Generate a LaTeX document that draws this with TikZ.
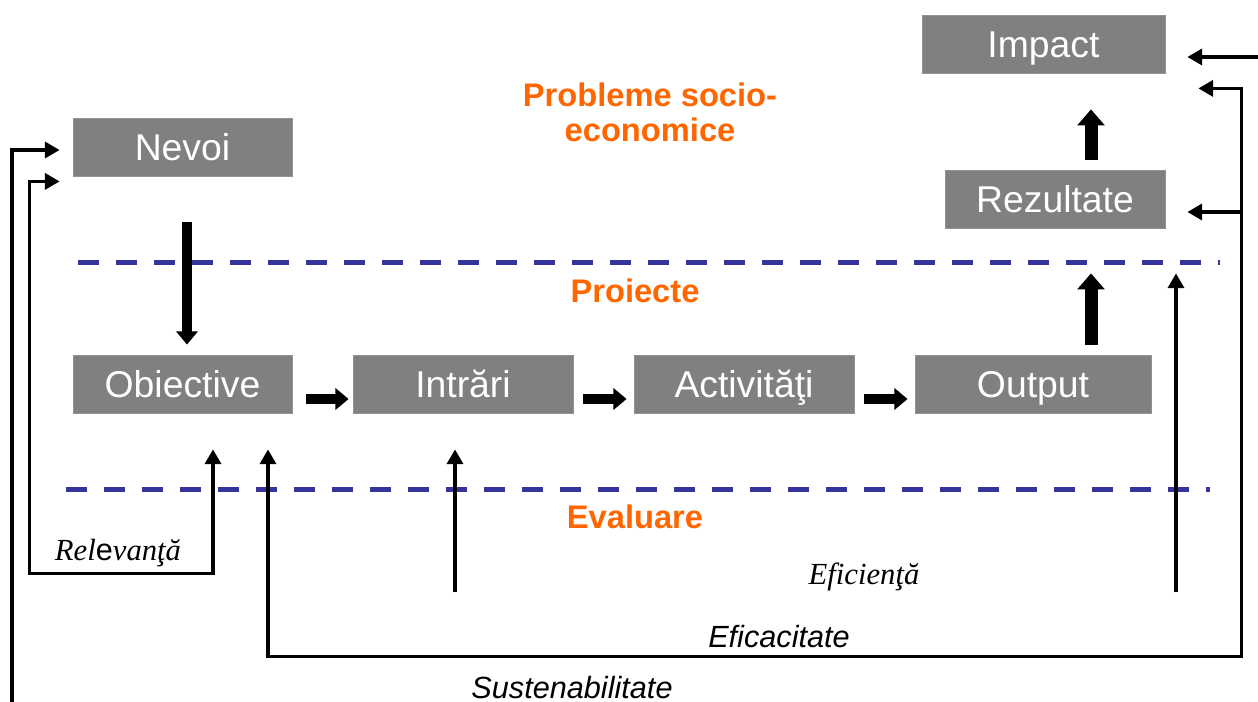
\documentclass[tikz,border=0pt]{standalone}
\usepackage{fontspec}
\setmainfont{Liberation Sans}
\newfontfamily\serifit{Liberation Serif}
\usetikzlibrary{arrows.meta,calc}
\definecolor{boxgray}{HTML}{808080}
\definecolor{titleorange}{HTML}{FF6600}
\definecolor{dashblue}{HTML}{333399}
\tikzset{fbtip/.tip={Triangle[width=12pt,length=11pt]}}
\begin{document}
\begin{tikzpicture}[x=0.75pt,y=-0.75pt,
  box/.style={fill=boxgray,draw=boxgray!85!white,line width=0.6pt,text=white,
    minimum height=43.5pt,inner sep=0pt,text height=20pt,text depth=0pt,
    font=\fontsize{28}{32}\selectfont},
  heading/.style={text=titleorange,font=\bfseries\fontsize{24.5}{26}\selectfont,align=center},
  sanslabel/.style={font=\itshape\fontsize{23}{26}\selectfont},
  seriflabel/.style={font=\serifit\itshape\fontsize{23}{26}\selectfont},
  blockarrow/.style={line width=7.5pt,-{Triangle[width=16pt,length=10pt]}},
  bigblock/.style={line width=9.75pt,-{Triangle[width=20pt,length=12pt]}},
  feedback/.style={line width=2.5pt},
  sep/.style={dashblue,line width=3.75pt,dash pattern=on 15.75pt off 12.75pt}]
\useasboundingbox (0,0) rectangle (1258,702);

% boxes
\node[box,minimum width=182.25pt] (impact)    at (1043.5,44)  {Impact};
\node[box,minimum width=164.25pt] (nevoi)     at (182.5,147)  {Nevoi};
\node[box,minimum width=165pt]    (rezultate) at (1055,199)   {Rezultate};
\node[box,minimum width=164.25pt] (obiective) at (182.5,384)  {Obiective};
\node[box,minimum width=165pt]    (intrari)   at (463,384)    {Intrări};
\node[box,minimum width=165pt]    (activ)     at (744,384)    {Activităţi};
\node[box,minimum width=177pt]    (output)    at (1033,384)   {Output};

% level separators
\draw[sep] (78,263) -- (1220,263);
\draw[sep] (66,490) -- (1210,490);

% headings
\node[heading] (probleme) at (650,112) {Probleme socio-\\economice};
\node[heading] (proiecte) at (635,291) {Proiecte};
\node[heading] (evaluare) at (635,517) {Evaluare};

% main flow
\draw[blockarrow] ($(nevoi.south)+(4.5,46)$) -- ($(obiective.north)+(4.5,-10)$);
\draw[blockarrow] ($(obiective.east)+(14,15)$) -- ($(intrari.west)+(-4,15)$);
\draw[blockarrow] ($(intrari.east)+(10,15)$) -- ($(activ.west)+(-7,15)$);
\draw[blockarrow] ($(activ.east)+(10,15)$) -- ($(output.west)+(-7,15)$);
\draw[bigblock] ($(output.north)+(58,-10)$) -- ($(rezultate.south)+(36,45)$);
\draw[bigblock] ($(rezultate.north)+(36,-10)$) -- ($(impact.south)+(47.5,36)$);

% evaluation criteria
\coordinate (sbottom) at (12,702);
\coordinate (redge) at (1258,57);

\draw[feedback,fbtip-fbtip] ($(obiective.south)+(30.5,36)$) -- ++(0,124)
  -| ($(nevoi.south west)+(-43,5)$) -- ($(nevoi.south west)+(-13,5)$);
\draw[feedback,-fbtip] (sbottom) |- ($(nevoi.west)+(-13,3)$);
\draw[feedback,fbtip-fbtip] ($(obiective.south)+(85.5,36)$) -- ++(0,207)
  -| ($(impact.south east)+(76,15)$) -- ($(impact.south east)+(33,15)$);
\draw[feedback,-fbtip] (1241,212) -- ($(rezultate.east)+(22,13)$);
\draw[feedback,-fbtip] (redge) -- ($(impact.east)+(22,13)$);
\draw[feedback,-fbtip] ($(intrari.south)+(-8,179)$) -- ($(intrari.south)+(-8,36)$);
\draw[feedback,-fbtip] (1176,592) -- ($(rezultate.south)+(121,45)$);

% criteria labels
\node[seriflabel] (relevanta) at (118,553) {Rel{\fontspec{Liberation Sans}\upshape e}vanţă};
\node[seriflabel] (eficienta) at (864,577) {Eficienţă};
\node[sanslabel] (eficacitate) at (779,637) {Eficacitate};
\node[sanslabel,inner sep=0pt,text depth=0pt,anchor=base] (sustenab) at (572,698) {Sustenabilitate};
\end{tikzpicture}
\end{document}
